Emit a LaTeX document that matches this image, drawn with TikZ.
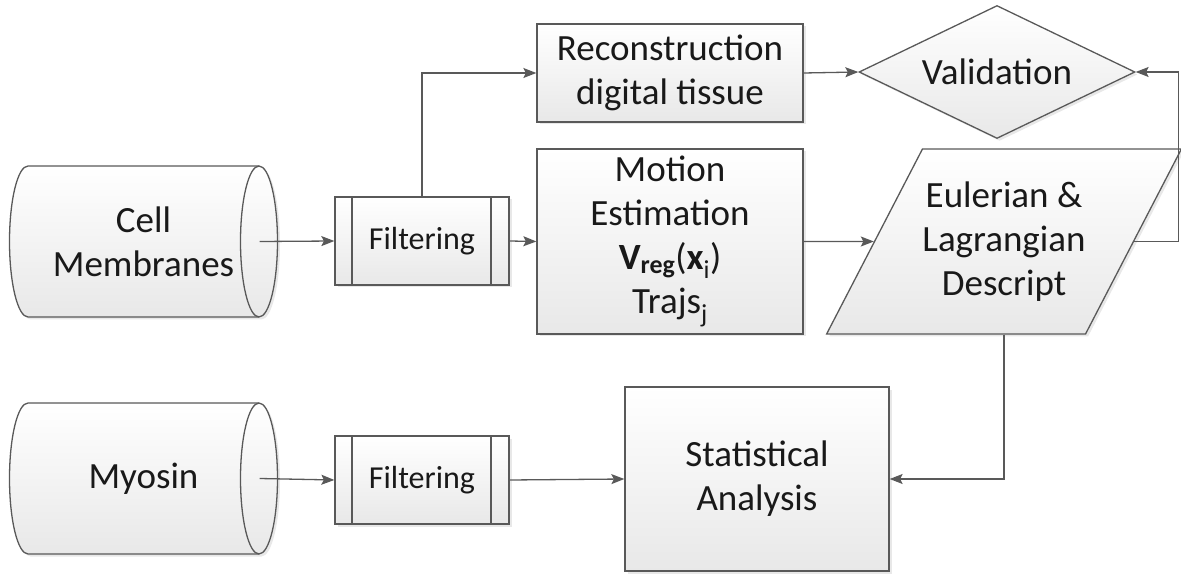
\documentclass[tikz,border=0pt]{standalone}
\usepackage{fontspec}
\setmainfont{Carlito}
\usetikzlibrary{shapes.geometric,arrows.meta,shadows}

\begin{document}
\begin{tikzpicture}[x=1pt, y=-1pt, line width=1.3pt,
    every node/.style={font=\fontsize{37}{44}\selectfont, text=black!90, align=center, inner sep=0pt},
    shaded/.style={top color=white, bottom color=black!9,
        drop shadow={shadow xshift=2.5pt, shadow yshift=-2.5pt, opacity=0.18}},
    box/.style={shaded, draw=black!65},
    process/.style={box, rectangle, minimum width=266pt},
    filterbox/.style={box, rectangle, minimum width=174pt, minimum height=88pt,
        font=\fontsize{32}{38}\selectfont,
        path picture={
            \draw[black!65] ([xshift=17pt]path picture bounding box.north west) -- ([xshift=17pt]path picture bounding box.south west);
            \draw[black!65] ([xshift=-18pt]path picture bounding box.north east) -- ([xshift=-18pt]path picture bounding box.south east);
        }},
    store/.style={rectangle, minimum width=231pt, minimum height=151pt},
    decision/.style={box, diamond, aspect=2.07, minimum width=276pt, minimum height=133pt},
    iobox/.style={box, trapezium, trapezium left angle=51.3, trapezium right angle=128.7,
        trapezium stretches body=true, minimum width=352pt, minimum height=185pt},
    arr/.style={draw=black!65, -{Stealth[length=13pt, width=10pt, inset=2.5pt]}}]

    \useasboundingbox (0,0) rectangle (1181,577);

    % Input data: drum outline first, then the body node on top
    \foreach \y/\n/\txt in {241.5/cm/{Cell\\Membranes}, 478.5/myo/Myosin} {
        \path[shaded] (28,{\y-75.5}) arc[start angle=90, end angle=270, x radius=18.5pt, y radius=75.5pt]
            -- (259,{\y+75.5}) arc[start angle=-90, end angle=90, x radius=18.5pt, y radius=75.5pt] -- cycle;
        \draw[draw=black!65, line width=1.3pt] (28,{\y-75.5}) arc[start angle=90, end angle=270, x radius=18.5pt, y radius=75.5pt]
            -- (259,{\y+75.5}) arc[start angle=-90, end angle=90, x radius=18.5pt, y radius=75.5pt] -- cycle;
        \draw[draw=black!65, line width=1.3pt] (259,{\y-75.5}) arc[start angle=90, end angle=270, x radius=18.5pt, y radius=75.5pt];
        \node[store] (\n) at (143.5,\y) {\txt};
    }

    % Filtering steps
    \node[filterbox] (f1) at (422,241) {Filtering};
    \node[filterbox] (f2) at (422,480) {Filtering};

    % Processing
    \node[process, minimum height=98pt] (rec) at (670,73) {Reconstruction\\digital tissue};
    \node[process, minimum height=185pt] (mot) at (670,241.5)
        {Motion\\Estimation\\\textbf{V}\textsubscript{\textbf{reg}}(\textbf{x}\textsubscript{i})\\Trajs\textsubscript{j}};
    \node[box, rectangle, minimum width=264pt, minimum height=184pt] (stat) at (757,479) {Statistical\\Analysis};

    % Outputs
    \node[decision] (val) at (997,72) {Validation};
    \node[iobox] (desc) at (1004,241.5) {Eulerian \&\\Lagrangian\\Descript};

    % feedback loop runs along the right edge
    \coordinate (loop) at (1178.5,0);

    % Connections
    \draw[arr] (cm.east) -- (f1.west);
    \draw[arr] (myo.east) -- (f2.west);
    \draw[arr] (f1.east) -- (mot.west);
    \draw[arr] (f1.north) |- (rec.west);
    \draw[arr] (f2.east) -- (stat.west);
    \draw[arr] (rec.east) -- (val.west);
    \draw[arr] (mot.east) -- (desc.west);
    \draw[arr] (desc.east) -- (desc.east -| loop) -- (val.east -| loop) -- (val.east);
    \draw[arr] (desc.south) |- (stat.east);
\end{tikzpicture}
\end{document}
